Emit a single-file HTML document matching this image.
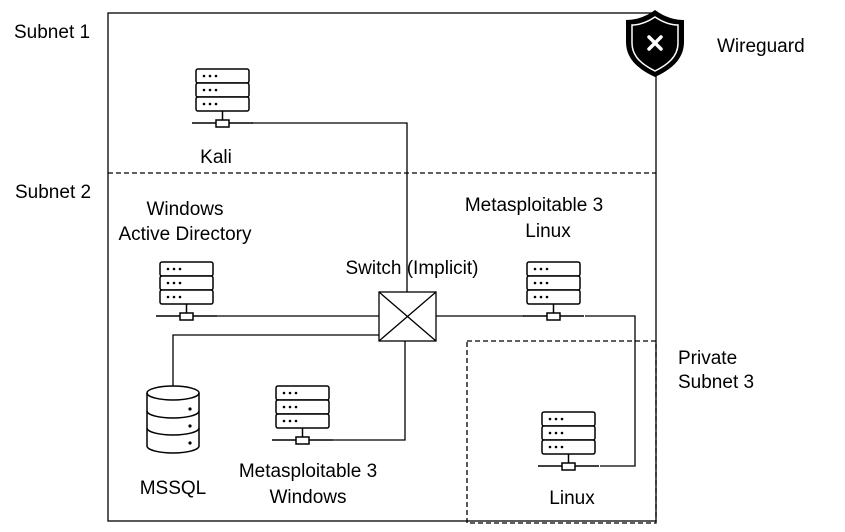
<!DOCTYPE html>
<html><head><style>
body{margin:0;background:#fff;}
svg text{font-family:"Liberation Sans",Arial,sans-serif;font-size:19px;fill:#000;}
</style></head><body>
<svg width="845" height="527" viewBox="0 0 845 527" xmlns="http://www.w3.org/2000/svg">
<defs>
<g id="srv" fill="none" stroke="#000" stroke-width="1.5">
<rect x="0" y="0" width="53" height="14" rx="2" fill="#fff"/>
<rect x="0" y="14" width="53" height="14" rx="2" fill="#fff"/>
<rect x="0" y="28" width="53" height="14" rx="2" fill="#fff"/>
<g fill="#000" stroke="none">
<circle cx="8" cy="7" r="1.3"/><circle cx="14" cy="7" r="1.3"/><circle cx="20" cy="7" r="1.3"/>
<circle cx="8" cy="21" r="1.3"/><circle cx="14" cy="21" r="1.3"/><circle cx="20" cy="21" r="1.3"/>
<circle cx="8" cy="35" r="1.3"/><circle cx="14" cy="35" r="1.3"/><circle cx="20" cy="35" r="1.3"/>
</g>
<line x1="26.5" y1="42" x2="26.5" y2="51"/>
<line x1="-4" y1="54" x2="57" y2="54"/>
<rect x="20" y="51" width="13" height="7" fill="#fff"/>
</g>
</defs>
<g fill="none" stroke="#000" stroke-width="1.3">
<rect x="108" y="13" width="548" height="508"/>
<line x1="108" y1="173" x2="656" y2="173" stroke-dasharray="5,3"/>
<rect x="467" y="341" width="189" height="182" stroke-dasharray="5,3"/>
<polyline points="252,123 407,123 407,292"/>
<line x1="217" y1="316" x2="379" y2="316"/>
<polyline points="379,335 173,335 173,386"/>
<polyline points="333,440 405,440 405,341"/>
<line x1="436" y1="316" x2="524" y2="316"/>
<polyline points="585,316 635,316 635,466 600,466"/>
<rect x="379" y="292" width="57" height="49" fill="#fff"/>
<line x1="379" y1="292" x2="436" y2="341"/>
<line x1="436" y1="292" x2="379" y2="341"/>
</g>
<use href="#srv" x="196" y="69"/>
<use href="#srv" x="160" y="262"/>
<use href="#srv" x="276" y="386"/>
<use href="#srv" x="527" y="262"/>
<use href="#srv" x="542" y="412"/>
<g fill="#fff" stroke="#000" stroke-width="1.5">
<path d="M147,393 L147,446 A26,7 0 0 0 199,446 L199,393"/>
<ellipse cx="173" cy="393" rx="26" ry="7"/>
<path d="M147,411 A26,7 0 0 0 199,411" fill="none"/>
<path d="M147,428 A26,7 0 0 0 199,428" fill="none"/>
<g fill="#000" stroke="none"><circle cx="190" cy="409" r="1.6"/><circle cx="190" cy="426" r="1.6"/><circle cx="190" cy="443" r="1.6"/></g>
</g>
<path d="M655,10 C644,18 634,20 626,20 L626,42 C626,60 640,70 655,77 C670,70 684,60 684,42 L684,20 C676,20 666,18 655,10 Z" fill="#000"/>
<path d="M655,17 C646,23 639,25 632,25 L632,43 C632,57 643,65 655,71 C667,65 678,57 678,43 L678,25 C671,25 664,23 655,17 Z" fill="none" stroke="#fff" stroke-width="1.5"/>
<g stroke="#fff" stroke-width="3.5" stroke-linecap="round"><line x1="649" y1="37" x2="661" y2="49"/><line x1="661" y1="37" x2="649" y2="49"/></g>
<text x="14" y="38">Subnet 1</text>
<text x="216" y="163" text-anchor="middle">Kali</text>
<text x="15" y="198">Subnet 2</text>
<text x="185" y="215" text-anchor="middle">Windows</text>
<text x="185" y="240" text-anchor="middle">Active Directory</text>
<text x="412" y="274" text-anchor="middle">Switch (Implicit)</text>
<text x="534" y="211" text-anchor="middle">Metasploitable 3</text>
<text x="548" y="237" text-anchor="middle">Linux</text>
<text x="717" y="52">Wireguard</text>
<text x="678" y="364">Private</text>
<text x="678" y="388">Subnet 3</text>
<text x="173" y="494" text-anchor="middle">MSSQL</text>
<text x="308" y="477" text-anchor="middle">Metasploitable 3</text>
<text x="308" y="503" text-anchor="middle">Windows</text>
<text x="572" y="504" text-anchor="middle">Linux</text>
</svg>
</body></html>
